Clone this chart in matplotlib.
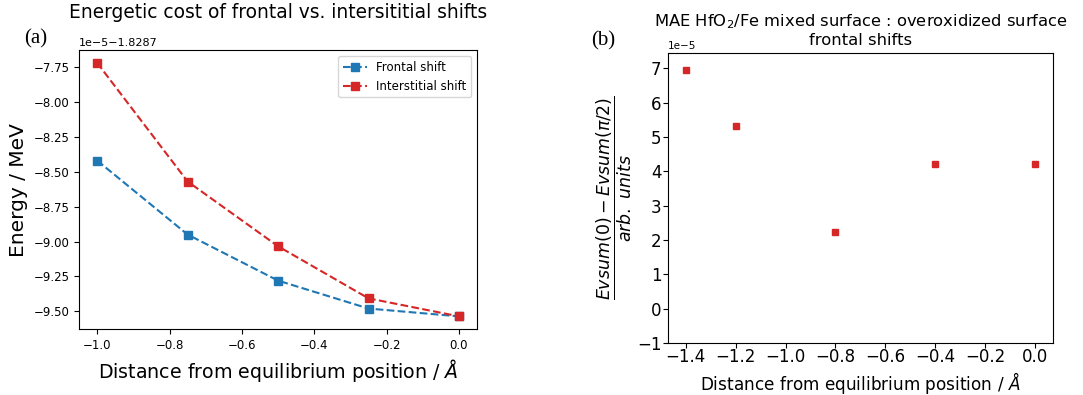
import matplotlib.pyplot as plt

# panel (a): energy vs shift, values in units of 1e-5 relative to -1.8287
dist_a = [-1.0, -0.75, -0.5, -0.25, 0.0]
frontal = [-8.42, -8.95, -9.28, -9.48, -9.536]
interstitial = [-7.72, -8.57, -9.034, -9.407, -9.536]
yticks_a = [-7.75, -8.0, -8.25, -8.5, -8.75, -9.0, -9.25, -9.5]
offset = -1.8287
scale = 1e-5

# panel (b): MAE, units of 1e-5
dist_b = [-1.4, -1.2, -0.8, -0.4, 0.0]
mae = [6.94, 5.31, 2.23, 4.21, 4.21]
xticks_b = [-1.4, -1.2, -1.0, -0.8, -0.6, -0.4, -0.2, 0.0]
yticks_b = [-1, 0, 1, 2, 3, 4, 5, 6, 7]

fig = plt.figure(figsize=(10.83, 3.95), dpi=100)

ax1 = fig.add_axes([0.073, 0.167, 0.3675, 0.706])
ax1.plot(dist_a, [offset + v * scale for v in frontal], marker='s', linestyle='--',
         color='#1f77b4', markersize=6, label='Frontal shift')
ax1.plot(dist_a, [offset + v * scale for v in interstitial], marker='s', linestyle='--',
         color='#d62728', markersize=6, label='Interstitial shift')
ax1.ticklabel_format(axis='y', useOffset=offset)
ax1.set_yticks([offset + v * scale for v in yticks_a])
ax1.tick_params(labelsize=8.5)
ax1.yaxis.get_offset_text().set_fontsize(8)
ax1.set_title('Energetic cost of frontal vs. intersititial shifts', fontsize=13.4, y=1.0, pad=23)
ax1.set_xlabel(r'Distance from equilibrium position / $\AA$', fontsize=13.7)
ax1.set_ylabel('Energy / MeV', fontsize=14.5)
ax1.legend(loc='upper right', fontsize=8.5)

ax2 = fig.add_axes([0.617, 0.132, 0.355, 0.734])
ax2.plot(dist_b, [v * scale for v in mae], marker='s', linestyle='none',
         color='#d62728', markersize=4.5)
ax2.set_ylim(-1 * scale, 7.45 * scale)
ax2.set_xticks(xticks_b)
ax2.set_yticks([v * scale for v in yticks_b])
ax2.tick_params(labelsize=12, pad=1.5)
ax2.tick_params(axis='x', pad=0)
ax2.yaxis.get_offset_text().set_fontsize(7.5)
ax2.set_title('MAE HfO$_2$/Fe mixed surface : overoxidized surface\nfrontal shifts',
              fontsize=11.8, y=1.0, pad=6, linespacing=1.1)
ax2.set_xlabel(r'Distance from equilibrium position / $\AA$', fontsize=12.2, labelpad=3)
ax2.set_ylabel(r'$\dfrac{Evsum(0) - Evsum(\pi/2)}{arb.\ units}$', fontsize=12.5, labelpad=2)

fig.text(0.022, 0.89, '(a)', fontsize=15, family='Liberation Serif')
fig.text(0.546, 0.885, '(b)', fontsize=15, family='Liberation Serif')

fig.savefig('out.png', dpi=100)
